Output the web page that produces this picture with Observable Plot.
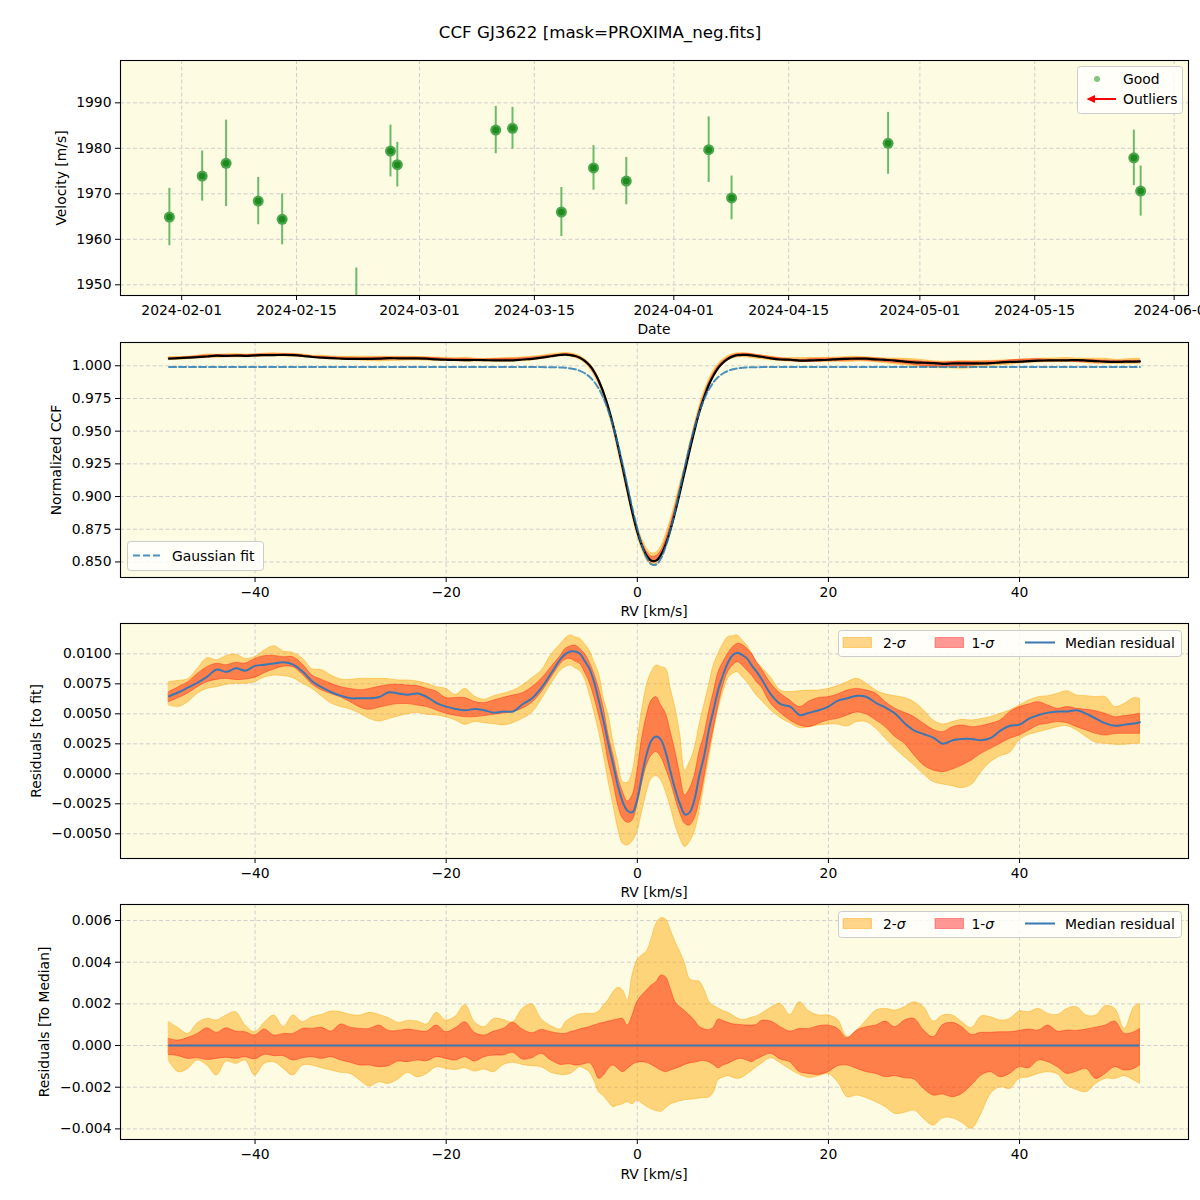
<!DOCTYPE html>
<html>
<head>
<meta charset="utf-8">
<script src="https://cdn.jsdelivr.net/npm/d3@7"></script>
<script src="https://cdn.jsdelivr.net/npm/@observablehq/plot@0.6"></script>
<style>
  body { margin: 0; background: #fff; }
  #root { position: relative; width: 1200px; height: 1200px; background: #fff; overflow: hidden; font-family: "DejaVu Sans", sans-serif; }
</style>
</head>
<body>
<div id="root"></div>
<script>
// ---------------- DATA ----------------
const titleText = "CCF GJ3622 [mask=PROXIMA_neg.fits]";

// Panel 1: RV time series
const dates = ["2024-01-30T12:00Z","2024-02-03T12:00Z","2024-02-06T10:00Z","2024-02-10T08:00Z","2024-02-13T06:00Z",
  "2024-02-22T07:00Z","2024-02-26T11:00Z","2024-02-27T07:00Z","2024-03-10T07:00Z","2024-03-12T08:00Z",
  "2024-03-18T07:00Z","2024-03-22T05:00Z","2024-03-26T05:00Z","2024-04-05T06:00Z","2024-04-08T01:00Z",
  "2024-04-27T03:00Z","2024-05-27T02:00Z","2024-05-27T22:00Z"];
const vel = [1964.9, 1973.9, 1976.7, 1968.4, 1964.4, 1944.5, 1979.4, 1976.4, 1984.0, 1984.4,
  1966.0, 1975.7, 1972.8, 1979.7, 1969.1, 1981.1, 1977.9, 1970.6];
const velErr = [6.3, 5.5, 9.5, 5.2, 5.6, 9.2, 5.7, 4.9, 5.2, 4.6, 5.4, 4.9, 5.2, 7.2, 4.8, 6.8, 6.1, 5.5];

const dateTicks = ["2024-02-01","2024-02-15","2024-03-01","2024-03-15","2024-04-01","2024-04-15","2024-05-01","2024-05-15","2024-06-01"];
const velTicks = [1950, 1960, 1970, 1980, 1990];
const rvTicks = [-40, -20, 0, 20, 40];
const ccfTicks = [0.850, 0.875, 0.900, 0.925, 0.950, 0.975, 1.000];
const res3Ticks = [-0.005, -0.0025, 0, 0.0025, 0.005, 0.0075, 0.01];
const res4Ticks = [-0.004, -0.002, 0, 0.002, 0.004, 0.006];

// RV grid (km/s)
const rv = [-49,-48,-47,-46,-45,-44,-43,-42,-41,-40,-39,-38,-37,-36,-35,-34,-33,-32,-31,-30,
  -29,-28,-27,-26,-25,-24,-23,-22,-21,-20,-19,-18,-17,-16,-15,-14,-13,-12,-11,-10,-9,
  -8,-7.5,-7,-6.5,-6,-5.5,-5,-4.5,-4,-3.5,-3,-2.5,-2,-1.5,-1,-0.5,0,0.5,1,1.5,2,2.5,3,3.5,4,4.5,5,5.5,6,6.5,7,7.5,8,8.5,9,9.5,10,10.5,11,11.5,12,12.5,13,
  14,15,16,17,18,19,20,21,22,23,24,25,26,27,28,29,30,31,32,33,34,35,36,37,38,39,40,41,42,43,44,45,46,47,48,49,50,51,52,52.6];

// Gaussian fit to the CCF, read on the grid
const gaussFit = [0.999,0.999,0.999,0.999,0.999,0.999,0.999,0.999,0.999,0.999,0.999,0.999,0.999,0.999,0.999,0.999,0.999,0.999,0.999,0.999,
  0.999,0.999,0.999,0.999,0.999,0.999,0.999,0.999,0.999,0.999,0.999,0.999,0.999,0.999,0.999,0.999,0.999,0.999,0.999,0.999,0.9989,
  0.9987,0.9985,0.9980,0.9973,0.9961,0.9943,0.9916,0.9876,0.9820,0.9745,0.9649,0.9531,0.9392,0.9236,0.9071,0.8906,0.8753,0.8624,0.8530,0.8481,0.8481,0.8530,0.8624,0.8753,0.8906,0.9071,0.9236,0.9392,0.9531,0.9649,0.9745,0.9820,0.9876,0.9916,0.9943,0.9961,0.9973,0.9980,0.9985,0.9987,0.9989,0.9989,0.9990,
  0.999,0.999,0.999,0.999,0.999,0.999,0.999,0.999,0.999,0.999,0.999,0.999,0.999,0.999,0.999,0.999,0.999,0.999,0.999,0.999,
  0.999,0.999,0.999,0.999,0.999,0.999,0.999,0.999,0.999,0.999,0.999,0.999,0.999,0.999,0.999,0.999,0.999,0.999,0.999,0.999];

// Panel 3: residuals to fit
const med3 = [0.00647,0.0068,0.0072,0.0076,0.0081,0.0087,0.0085,0.0088,0.0086,0.0090,0.0091,0.0092,0.0093,0.0091,0.0085,0.0077,0.0072,0.0068,0.0065,0.0063,
  0.0063,0.0063,0.0064,0.0068,0.0067,0.0066,0.0067,0.0064,0.0059,0.0056,0.0054,0.0053,0.0054,0.0053,0.0051,0.0052,0.0052,0.0058,0.0063,0.0072,0.0084,
  0.0096,0.0100,0.0102,0.0102,0.0100,0.0094,0.00875,0.0076,0.0060,0.0043,0.0024,0.0007,-0.0011,-0.0024,-0.0031,-0.0032,-0.0021,-0.0001,0.0017,0.0028,0.0031,0.0028,0.0017,0.0001,-0.0014,-0.0026,-0.0034,-0.0032,-0.0021,-0.0001,0.0015,0.0037,0.0054,0.0071,0.0083,0.0093,0.0099,0.0101,0.0099,0.0096,0.0090,0.0085,0.0079,
  0.0066,0.0058,0.0056,0.0049,0.0051,0.0053,0.0056,0.0061,0.0063,0.0065,0.0064,0.0059,0.0055,0.0050,0.0042,0.0036,0.0033,0.0030,0.0025,0.0028,
  0.0029,0.0029,0.0028,0.0030,0.0036,0.0040,0.0041,0.0046,0.0049,0.0051,0.0052,0.0052,0.0053,0.0050,0.0046,0.0042,0.0040,0.0041,0.0042,0.0043];
const hi2_3 = [0.00764,0.00775,0.00789,0.00875,0.00964,0.00947,0.00981,0.00994,0.00958,0.00972,0.01028,0.01064,0.01019,0.01008,0.0096,0.00872,0.00864,0.00819,0.00786,0.00783,
  0.00792,0.00792,0.00792,0.00789,0.00778,0.00778,0.00769,0.0075,0.00722,0.00708,0.00658,0.00708,0.00644,0.00617,0.00647,0.00667,0.00692,0.00736,0.00797,0.00861,0.00992,
  0.01083,0.01128,0.01153,0.01139,0.01125,0.01083,0.01028,0.00931,0.00833,0.00625,0.00486,0.00264,0.00097,-0.00069,-0.00075,0.00014,0.00264,0.00528,0.00736,0.00847,0.00903,0.00889,0.00875,0.00708,0.00542,0.00319,0.00028,0.00097,0.00208,0.00403,0.00569,0.00736,0.00903,0.0100,0.01083,0.01139,0.01147,0.01153,0.01111,0.01069,0.0100,0.00931,0.00889,
  0.0080,0.00694,0.00681,0.00689,0.00694,0.00694,0.00708,0.00731,0.00764,0.00792,0.0075,0.00694,0.00661,0.00647,0.00631,0.00597,0.00528,0.00444,0.00411,0.00431,
  0.0045,0.00444,0.00456,0.00472,0.0050,0.00528,0.00569,0.00611,0.00639,0.00647,0.00667,0.00689,0.00653,0.00647,0.00639,0.00639,0.00556,0.00583,0.00631,0.00625];
const hi1_3 = [0.00681,0.00722,0.00764,0.00833,0.00889,0.00917,0.00906,0.00925,0.00919,0.00958,0.00981,0.00983,0.00972,0.00972,0.00911,0.00819,0.00783,0.0075,0.00722,0.00708,
  0.00697,0.00708,0.00725,0.00739,0.00742,0.00736,0.00731,0.00708,0.00686,0.00631,0.00633,0.00631,0.0060,0.00589,0.00611,0.00633,0.00653,0.00672,0.00722,0.00792,0.00889,
  0.00986,0.01042,0.01061,0.01069,0.01042,0.0100,0.00931,0.00833,0.00708,0.00542,0.00319,0.00153,-0.00028,-0.00153,-0.00231,-0.00181,0.00014,0.00292,0.00486,0.00611,0.00639,0.00569,0.0050,0.00347,0.00181,-0.00014,-0.00181,-0.00125,-0.00014,0.00181,0.00319,0.00514,0.00681,0.00847,0.00931,0.0100,0.01056,0.01083,0.01075,0.01042,0.0100,0.00931,0.00875,
  0.0075,0.00667,0.00611,0.00556,0.00603,0.00633,0.00639,0.00661,0.00694,0.00708,0.00694,0.00667,0.00597,0.00542,0.00508,0.00472,0.00417,0.00367,0.00347,0.00389,
  0.00403,0.00389,0.00397,0.00417,0.00444,0.00514,0.00556,0.00578,0.00597,0.00569,0.00542,0.00556,0.00542,0.00533,0.00522,0.0050,0.00472,0.00481,0.00492,0.0050];
const lo1_3 = [0.00597,0.00631,0.00669,0.00722,0.00764,0.00783,0.00792,0.00781,0.00786,0.0080,0.00839,0.00869,0.00892,0.00889,0.00825,0.00744,0.00694,0.00664,0.00636,0.00597,
  0.00553,0.00533,0.0055,0.00569,0.00581,0.00581,0.00569,0.00556,0.00528,0.0050,0.00483,0.00472,0.00472,0.00481,0.00492,0.00503,0.00514,0.00542,0.00592,0.0068,0.0080,
  0.00917,0.0095,0.00958,0.00936,0.00917,0.00847,0.00764,0.00639,0.00486,0.00319,0.00097,-0.00069,-0.00264,-0.00375,-0.00408,-0.00389,-0.00264,-0.00083,0.00069,0.00153,0.00181,0.00139,0.00042,-0.00069,-0.00208,-0.00333,-0.00417,-0.00431,-0.00375,-0.00236,-0.00042,0.00181,0.00375,0.00569,0.00736,0.00847,0.00903,0.00931,0.00903,0.00861,0.00819,0.00764,0.00722,
  0.00583,0.00506,0.00444,0.00403,0.00389,0.00417,0.00444,0.00458,0.00486,0.00511,0.00494,0.00444,0.00389,0.00306,0.0025,0.00153,0.00069,0.00028,0.00014,0.00036,
  0.00069,0.00111,0.00167,0.00208,0.0025,0.00292,0.00319,0.00361,0.00403,0.00417,0.00431,0.00422,0.00389,0.00361,0.00333,0.00319,0.00331,0.00333,0.00333,0.00333];
const lo2_3 = [0.00569,0.00556,0.00597,0.00667,0.00708,0.00722,0.00742,0.0075,0.0075,0.00764,0.00803,0.00819,0.00814,0.00797,0.0075,0.00708,0.00644,0.00586,0.00556,0.00536,
  0.0050,0.00458,0.00436,0.00456,0.00478,0.00497,0.00508,0.00492,0.00486,0.00472,0.00444,0.00408,0.00431,0.00422,0.00414,0.00403,0.00422,0.00458,0.00508,0.00619,0.0075,
  0.00861,0.00889,0.00903,0.00881,0.00856,0.00792,0.00667,0.00514,0.00347,0.00153,-0.00069,-0.00264,-0.00458,-0.00583,-0.00597,-0.00564,-0.00486,-0.00319,-0.00153,-0.00042,-0.00019,-0.00056,-0.00153,-0.00278,-0.00431,-0.00542,-0.00611,-0.00569,-0.00486,-0.00319,-0.00097,0.00125,0.00347,0.00542,0.00681,0.00792,0.00833,0.00847,0.00806,0.00764,0.00708,0.00653,0.00611,
  0.00528,0.00464,0.00422,0.00381,0.00389,0.00403,0.00411,0.00411,0.00394,0.00431,0.00431,0.00375,0.00292,0.00208,0.00139,0.00069,-0.00006,-0.00069,-0.00089,-0.00103,
  -0.00119,-0.00092,0.00014,0.00097,0.00147,0.00175,0.00278,0.00325,0.00347,0.00367,0.00389,0.00397,0.00361,0.00306,0.00258,0.0025,0.00242,0.00242,0.0025,0.0025];

// Panel 4: residuals to median (median residual is 0)
const hi2_4 = [0.00112,0.00083,0.00056,0.00107,0.00128,0.0012,0.00144,0.0016,0.00096,0.00064,0.00109,0.00144,0.00088,0.00144,0.00112,0.00136,0.00147,0.00163,0.0016,0.00147,
  0.00144,0.00157,0.00147,0.00131,0.00109,0.00118,0.00115,0.00101,0.00157,0.0012,0.00139,0.00195,0.00112,0.00088,0.00128,0.00123,0.00112,0.00176,0.00197,0.00125,0.00093,
  0.00077,0.00112,0.00128,0.00141,0.00149,0.00152,0.00152,0.00152,0.00163,0.00192,0.00219,0.00256,0.00277,0.00264,0.00216,0.00336,0.00408,0.00432,0.00451,0.00512,0.00584,0.00611,0.00605,0.00552,0.00496,0.00448,0.00392,0.0032,0.00309,0.00307,0.0027,0.00213,0.0019,0.00178,0.00166,0.00157,0.00144,0.0013,0.00122,0.00126,0.00134,0.0014,0.00152,
  0.00182,0.0020,0.00146,0.00208,0.00163,0.00144,0.00144,0.00123,0.0004,0.00072,0.0012,0.00168,0.00176,0.00168,0.00184,0.00208,0.00184,0.00115,0.00144,0.00144,
  0.00112,0.00083,0.00139,0.00136,0.0012,0.00128,0.00163,0.0016,0.00176,0.00152,0.00147,0.00176,0.00184,0.00144,0.00144,0.00189,0.00176,0.0008,0.00184,0.0020];
const hi1_4 = [0.00032,0.00024,0.00037,0.00056,0.00083,0.00061,0.00083,0.00067,0.00064,0.00048,0.00077,0.00048,0.00056,0.00056,0.0008,0.0008,0.00085,0.00067,0.00101,0.00086,
  0.0008,0.0008,0.00096,0.0007,0.0007,0.00077,0.0007,0.00067,0.00096,0.00064,0.00083,0.00112,0.00061,0.00048,0.00067,0.0008,0.00109,0.00077,0.00059,0.00075,0.00064,
  0.00056,0.00056,0.00064,0.0007,0.00077,0.00083,0.00088,0.00096,0.00104,0.00109,0.00115,0.0012,0.00125,0.00128,0.00096,0.00144,0.00208,0.0024,0.00264,0.00288,0.00304,0.00336,0.00328,0.00272,0.00208,0.00184,0.00165,0.00144,0.0012,0.0009,0.00078,0.00074,0.00086,0.00125,0.00118,0.00109,0.00102,0.001,0.00098,0.00096,0.00096,0.00099,0.00118,
  0.00115,0.00088,0.00067,0.0008,0.0008,0.00093,0.00096,0.0008,0.00035,0.00072,0.00088,0.00096,0.00115,0.00088,0.0012,0.00128,0.00072,0.0004,0.00099,0.00109,
  0.00088,0.00051,0.00061,0.00061,0.00064,0.00064,0.0007,0.00077,0.00072,0.00096,0.00067,0.00072,0.0007,0.00077,0.00086,0.00096,0.00115,0.00056,0.00064,0.0008];
const lo1_4 = [-0.00045,-0.00051,-0.00064,-0.00061,-0.00069,-0.00064,-0.00058,-0.00064,-0.00056,-0.00067,-0.00045,-0.00051,-0.00051,-0.00072,-0.00061,-0.00056,-0.00064,-0.00056,-0.00072,-0.00083,
  -0.00096,-0.00096,-0.00104,-0.00099,-0.00077,-0.0008,-0.00072,-0.00075,-0.00056,-0.00064,-0.00072,-0.00056,-0.00077,-0.00056,-0.00048,-0.00048,-0.00035,-0.00067,-0.00061,-0.0004,-0.00072,
  -0.00093,-0.00091,-0.0009,-0.00096,-0.00094,-0.0009,-0.00083,-0.00112,-0.0016,-0.00144,-0.00112,-0.00096,-0.00112,-0.00128,-0.00112,-0.00093,-0.00083,-0.0008,-0.00083,-0.00093,-0.00107,-0.0012,-0.00128,-0.0012,-0.00112,-0.00104,-0.00093,-0.00086,-0.00083,-0.00077,-0.00074,-0.0008,-0.00093,-0.00109,-0.00096,-0.00088,-0.00077,-0.00067,-0.00064,-0.00072,-0.0008,-0.00067,-0.00056,
  -0.0004,-0.00067,-0.0008,-0.00128,-0.00136,-0.00141,-0.00128,-0.00099,-0.00096,-0.00112,-0.00128,-0.00136,-0.00152,-0.00147,-0.00157,-0.00163,-0.00208,-0.0024,-0.00235,-0.00248,
  -0.00232,-0.00192,-0.00144,-0.00128,-0.00152,-0.00136,-0.00104,-0.00109,-0.00072,-0.0008,-0.00104,-0.00136,-0.00125,-0.00112,-0.0016,-0.00136,-0.00104,-0.0012,-0.00112,-0.00096];
const lo2_4 = [-0.00074,-0.00128,-0.00112,-0.00072,-0.00096,-0.00144,-0.00077,-0.00088,-0.00072,-0.00144,-0.00088,-0.0008,-0.00112,-0.00144,-0.00096,-0.00096,-0.00109,-0.0012,-0.00131,-0.00136,
  -0.00168,-0.00197,-0.00176,-0.00184,-0.00163,-0.00131,-0.00152,-0.00136,-0.00104,-0.00112,-0.00117,-0.00109,-0.00125,-0.00115,-0.00128,-0.00093,-0.00083,-0.00093,-0.00099,-0.00104,-0.00131,
  -0.00141,-0.00141,-0.00136,-0.0012,-0.00104,-0.00112,-0.00128,-0.00168,-0.00224,-0.00243,-0.00272,-0.00296,-0.00288,-0.00282,-0.00272,-0.00282,-0.00264,-0.00278,-0.00294,-0.00306,-0.00314,-0.00318,-0.00301,-0.00283,-0.00275,-0.00267,-0.00262,-0.0026,-0.00258,-0.00254,-0.00252,-0.0025,-0.00226,-0.00165,-0.00154,-0.00147,-0.00154,-0.0016,-0.00154,-0.00139,-0.00122,-0.00104,-0.00088,
  -0.00061,-0.00085,-0.00115,-0.0014,-0.00155,-0.00147,-0.00136,-0.00176,-0.00248,-0.0024,-0.00253,-0.00272,-0.00296,-0.00328,-0.00323,-0.00312,-0.00352,-0.00384,-0.00349,-0.00349,
  -0.00371,-0.0040,-0.00328,-0.00232,-0.0020,-0.00208,-0.0016,-0.00152,-0.00136,-0.00128,-0.00138,-0.00192,-0.00213,-0.00224,-0.00184,-0.0016,-0.0016,-0.00147,-0.00168,-0.00184];

// ---------------- STYLE ----------------
const FONT = '"DejaVu Sans", sans-serif';
const FS = 13.9;
const BG = "#fdfbe1";
const GRID = "#cfcfcf";
const MEDC = "#3a78b5";
const root = document.getElementById("root");
const PH = 235, MT = 5, MB = 30;

function addText(txt, cx, cy, size, rotate) {
  const d = document.createElement("div");
  d.textContent = txt;
  d.style.cssText = `position:absolute;left:${cx}px;top:${cy}px;transform:translate(-50%,-50%)${rotate ? " rotate(-90deg)" : ""};white-space:nowrap;font-size:${size}px;font-family:${FONT};color:#000;line-height:1;`;
  root.appendChild(d);
}
function overlay(left, top, w, h, inner) {
  const s = document.createElementNS("http://www.w3.org/2000/svg", "svg");
  s.setAttribute("width", w); s.setAttribute("height", h);
  s.style.cssText = `position:absolute;left:${left}px;top:${top}px;overflow:visible;font-family:${FONT};font-size:${FS}px;`;
  s.innerHTML = inner;
  root.appendChild(s);
}
function addPanel(top, xOpt, yOpt, xTicks, yTicks, xFmt, yFmt, marks) {
  const svg = Plot.plot({
    width: 1200, height: MT + PH + MB,
    marginTop: MT, marginBottom: MB, marginLeft: 120, marginRight: 12,
    style: {background: "transparent", fontFamily: FONT, fontSize: FS + "px", color: "#000", overflow: "hidden"},
    x: {...xOpt, label: null},
    y: {...yOpt, label: null},
    marks: [
      Plot.frame({fill: BG, stroke: "none"}),
      Plot.gridX(xTicks, {stroke: GRID, strokeOpacity: 1, strokeWidth: 1, strokeDasharray: "4,2.5"}),
      Plot.gridY(yTicks, {stroke: GRID, strokeOpacity: 1, strokeWidth: 1, strokeDasharray: "4,2.5"}),
      ...marks,
      Plot.frame({stroke: "#000", strokeWidth: 1.1}),
      Plot.axisX(xTicks, {tickSize: 5, tickPadding: 4.5, tickFormat: xFmt, label: null}),
      Plot.axisY(yTicks, {tickSize: 5, tickPadding: 4, tickFormat: yFmt, label: null})
    ]
  });
  svg.style.position = "absolute";
  svg.style.left = "0px";
  svg.style.top = (top - MT) + "px";
  root.appendChild(svg);
}

// ---------------- TABLES ----------------
const obs = dates.map((d, i) => ({date: new Date(d), v: vel[i], lo: vel[i] - velErr[i], hi: vel[i] + velErr[i]}));
const t3 = rv.map((r, i) => ({rv: r, med: med3[i], lo1: lo1_3[i], hi1: hi1_3[i], lo2: lo2_3[i], hi2: hi2_3[i]}));
const t2 = rv.map((r, i) => ({rv: r, fit: gaussFit[i], ccf: gaussFit[i] + med3[i],
  lo1: gaussFit[i] + lo1_3[i], hi1: gaussFit[i] + hi1_3[i], lo2: gaussFit[i] + lo2_3[i], hi2: gaussFit[i] + hi2_3[i]}));
const t4 = rv.map((r, i) => ({rv: r, lo1: lo1_4[i], hi1: hi1_4[i], lo2: lo2_4[i], hi2: hi2_4[i]}));

const rvX = {domain: [-54.08, 57.68]};
const fmtInt = d3.format("d");
const bands = (t) => [
  Plot.areaY(t, {x: "rv", y1: "lo2", y2: "hi2", fill: "orange", fillOpacity: 0.45, stroke: "orange", strokeOpacity: 0.45, strokeWidth: 1, curve: "catmull-rom"}),
  Plot.areaY(t, {x: "rv", y1: "lo1", y2: "hi1", fill: "red", fillOpacity: 0.4, stroke: "red", strokeOpacity: 0.35, strokeWidth: 1, curve: "catmull-rom"})
];

// ---------------- PANEL 1 ----------------
addPanel(60,
  {type: "utc", domain: [new Date("2024-01-24T13:00Z"), new Date("2024-06-02T18:00Z")]},
  {domain: [1947.65, 1999.3]},
  dateTicks.map(s => new Date(s + "T00:00Z")), velTicks,
  d3.utcFormat("%Y-%m-%d"), fmtInt,
  [
    Plot.ruleX(obs, {x: "date", y1: "lo", y2: "hi", stroke: "#6cbb6a", strokeWidth: 2, clip: true}),
    Plot.dot(obs, {x: "date", y: "v", r: 5.5, fill: "#4aa64a", clip: true}),
    Plot.dot(obs, {x: "date", y: "v", r: 3.3, fill: "#1f8a1f", clip: true})
  ]);

// ---------------- PANEL 2 ----------------
addPanel(342, rvX, {domain: [0.8381, 1.0178]}, rvTicks, ccfTicks, fmtInt, d3.format(".3f"), [
  ...bands(t2),
  Plot.lineY(t2, {x: "rv", y: "ccf", stroke: "#000", strokeWidth: 2.2, curve: "catmull-rom"}),
  Plot.lineY(t2, {x: "rv", y: "fit", stroke: "#1f77b4", strokeOpacity: 0.8, strokeWidth: 2, strokeDasharray: "7,3", curve: "catmull-rom"})
]);

// ---------------- PANEL 3 ----------------
addPanel(623, rvX, {domain: [-0.00706, 0.01253]}, rvTicks, res3Ticks, fmtInt, d3.format(".4f"), [
  ...bands(t3),
  Plot.lineY(t3, {x: "rv", y: "med", stroke: MEDC, strokeWidth: 2, curve: "catmull-rom"})
]);

// ---------------- PANEL 4 ----------------
addPanel(904, rvX, {domain: [-0.00451, 0.00677]}, rvTicks, res4Ticks, fmtInt, d3.format(".3f"), [
  ...bands(t4),
  Plot.ruleY([0], {x1: rv[0], x2: rv[rv.length - 1], stroke: MEDC, strokeWidth: 2})
]);

// ---------------- TEXT ----------------
addText(titleText, 600, 32, 16.7, false);
addText("Date", 654, 330, FS, false);
addText("RV [km/s]", 654, 612, FS, false);
addText("RV [km/s]", 654, 893, FS, false);
addText("RV [km/s]", 654, 1175, FS, false);
addText("Velocity [m/s]", 62, 177.5, FS, true);
addText("Normalized CCF", 57, 459.5, FS, true);
addText("Residuals [to fit]", 37, 740.5, FS, true);
addText("Residuals [To Median]", 45, 1021.5, FS, true);

// ---------------- LEGENDS ----------------
const box = (w, h) => `<rect x="0.5" y="0.5" width="${w - 1}" height="${h - 1}" rx="3" fill="#fff" fill-opacity="0.8" stroke="#cccccc"/>`;
overlay(1077, 66, 106, 48, box(106, 48) +
  `<circle cx="20" cy="13" r="3" fill="#2ca02c" fill-opacity="0.6"/>
   <text x="46" y="18">Good</text>
   <line x1="39" y1="33" x2="17" y2="33" stroke="red" stroke-width="2"/>
   <path d="M9.5,33 L18,29 L18,37 Z" fill="red"/>
   <text x="46" y="38">Outliers</text>`);
overlay(127, 541, 137, 30, box(137, 30) +
  `<line x1="6" y1="14.5" x2="33" y2="14.5" stroke="#1f77b4" stroke-opacity="0.8" stroke-width="2" stroke-dasharray="7,3"/>
   <text x="45" y="19.5">Gaussian fit</text>`);
const sigLegend = box(344, 27) +
  `<rect x="5" y="7.5" width="28.5" height="10" fill="orange" fill-opacity="0.45" stroke="orange" stroke-opacity="0.45"/>
   <text x="45" y="18">2-<tspan font-style="italic">σ</tspan></text>
   <rect x="97" y="7.5" width="28.5" height="10" fill="red" fill-opacity="0.4" stroke="red" stroke-opacity="0.35"/>
   <text x="133.5" y="18">1-<tspan font-style="italic">σ</tspan></text>
   <line x1="187" y1="12.5" x2="217" y2="12.5" stroke="${MEDC}" stroke-width="2"/>
   <text x="227" y="18">Median residual</text>`;
overlay(838, 630, 344, 27, sigLegend);
overlay(838, 911, 344, 27, sigLegend);
</script>
</body>
</html>
